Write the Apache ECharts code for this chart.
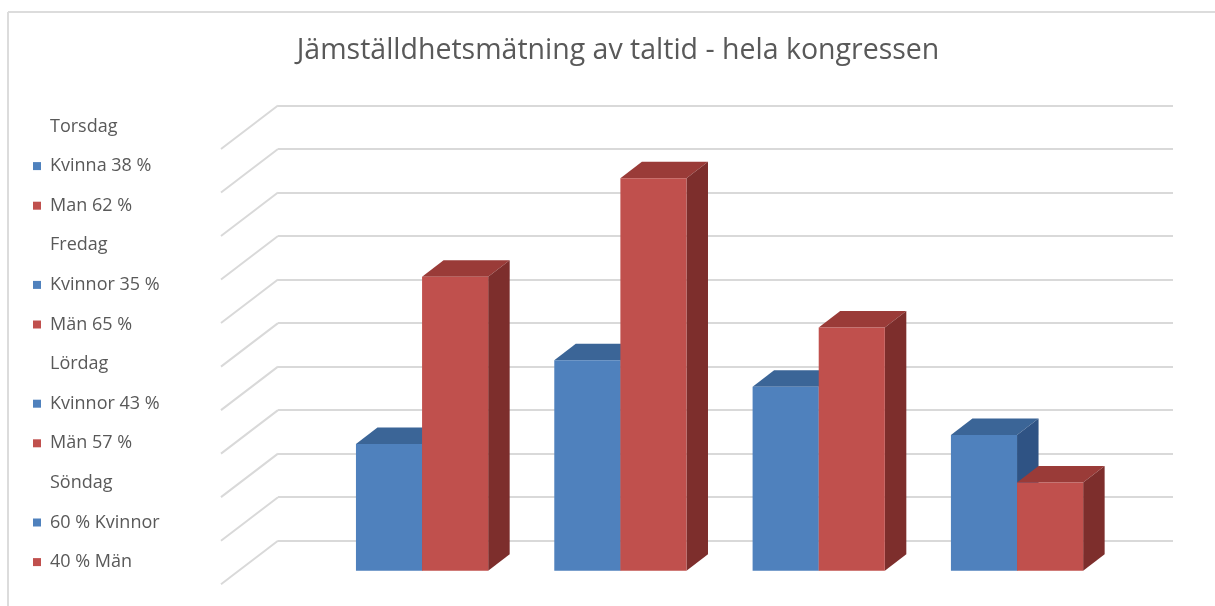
<!DOCTYPE html>
<html>
<head>
<meta charset="utf-8">
<script src="https://cdn.jsdelivr.net/npm/echarts@6/dist/echarts.min.js"></script>
<style>
  html, body { margin: 0; padding: 0; background: #fff; }
  #chart { width: 1215px; height: 606px; }
</style>
</head>
<body>
<div id="chart"></div>
<script>
// data
const days = ['Torsdag', 'Fredag', 'Lördag', 'Söndag']
const womenNames = ['Kvinna 38 %', 'Kvinnor 35 %', 'Kvinnor 43 %', '60 % Kvinnor']
const menNames = ['Man 62 %', 'Män 65 %', 'Män 57 %', '40 % Män']
const womenValues = [29.1, 48.4, 42.3, 31.2]
const menValues = [67.6, 90.2, 55.9, 20.3]
const wallTicks = [0, 10, 20, 30, 40, 50, 60, 70, 80, 90, 100]

const blue = { front: '#4f81bd', top: '#3b6597', side: '#2f5384' }
const red = { front: '#c0504d', top: '#9a3b38', side: '#7d2e2c' }
const DX = 21.5, DY = -16.5
const gridColor = '#d9d9d9'
const textColor = '#595959'

const chart = echarts.init(document.getElementById('chart'))

// one 3D column: front face, top and right side
function bar3d(c, side) {
  return (params, api) => {
    const cat = api.value(0), v = api.value(1)
    const w = api.size([1, 0])[0] / 3
    const p = api.coord([cat, v]), b = api.coord([cat, 0])
    const x0 = side < 0 ? p[0] - w : p[0], x1 = x0 + w
    const yT = p[1], yB = b[1]
    return {
      type: 'group', children: [
        { type: 'polygon', shape: { points: [[x0, yT], [x0 + DX, yT + DY], [x1 + DX, yT + DY], [x1, yT]] }, style: { fill: c.top } },
        { type: 'polygon', shape: { points: [[x1, yT], [x1 + DX, yT + DY], [x1 + DX, yB + DY], [x1, yB]] }, style: { fill: c.side } },
        { type: 'rect', shape: { x: x0, y: yT, width: w, height: yB - yT }, style: { fill: c.front } }
      ]
    }
  }
}

const series = [{
  // floor diagonals from the back wall gridlines
  type: 'custom', xAxisIndex: 0, yAxisIndex: 0, silent: true, z: 1,
  data: wallTicks.map(v => [0, v]),
  renderItem: (params, api) => {
    const p = api.coord([0, api.value(1)])
    return { type: 'line', shape: { x1: p[0], y1: p[1], x2: p[0] - 57, y2: p[1] + 43.5 }, style: { stroke: gridColor, lineWidth: 2 } }
  }
}]
const legendData = []
days.forEach((d, i) => {
  series.push({ name: d, type: 'custom', xAxisIndex: 1, yAxisIndex: 1, data: [], renderItem: () => null, itemStyle: { color: '#fff' } })
  series.push({ name: womenNames[i], type: 'custom', xAxisIndex: 1, yAxisIndex: 1, z: 3, silent: true,
    data: [[i, womenValues[i]]], renderItem: bar3d(blue, -1), itemStyle: { color: blue.front } })
  series.push({ name: menNames[i], type: 'custom', xAxisIndex: 1, yAxisIndex: 1, z: 3, silent: true,
    data: [[i, menValues[i]]], renderItem: bar3d(red, 1), itemStyle: { color: red.front } })
  legendData.push({ name: d, icon: 'none' }, { name: womenNames[i], icon: 'rect' }, { name: menNames[i], icon: 'rect' })
})

chart.setOption({
  animation: false,
  title: {
    text: 'Jämställdhetsmätning av taltid - hela kongressen',
    left: 613, top: 31, textAlign: 'center',
    textStyle: { fontFamily: 'Open Sans', fontSize: 28.5, fontWeight: 'normal', color: textColor }
  },
  legend: {
    orient: 'vertical', left: 28, top: 111.5, itemWidth: 8, itemHeight: 8, itemGap: 19.6,
    selectedMode: false, data: legendData,
    textStyle: { fontFamily: 'Open Sans', fontSize: 18, color: textColor, lineHeight: 20, padding: [0, 0, 0, 4] }
  },
  graphic: [
    { type: 'line', shape: { x1: 8, y1: 12, x2: 1215, y2: 12 }, style: { stroke: '#dcdcdc', lineWidth: 2 } },
    { type: 'line', shape: { x1: 8, y1: 12, x2: 8, y2: 606 }, style: { stroke: '#dcdcdc', lineWidth: 2 } }
  ],
  grid: [
    { left: 278, top: 105.5, width: 895, height: 435.2 },
    { left: 322.9, top: 135.7, width: 793.3, height: 435 }
  ],
  xAxis: [
    { gridIndex: 0, type: 'value', min: 0, max: 1, show: false },
    { gridIndex: 1, type: 'category', data: days, show: false }
  ],
  yAxis: [
    { gridIndex: 0, type: 'value', min: 0, max: 100, interval: 10,
      axisLabel: { show: false }, axisLine: { show: false }, axisTick: { show: false },
      splitLine: { lineStyle: { color: gridColor, width: 2 } } },
    { gridIndex: 1, type: 'value', min: 0, max: 100, show: false, splitLine: { show: false } }
  ],
  series
})
</script>
</body>
</html>
